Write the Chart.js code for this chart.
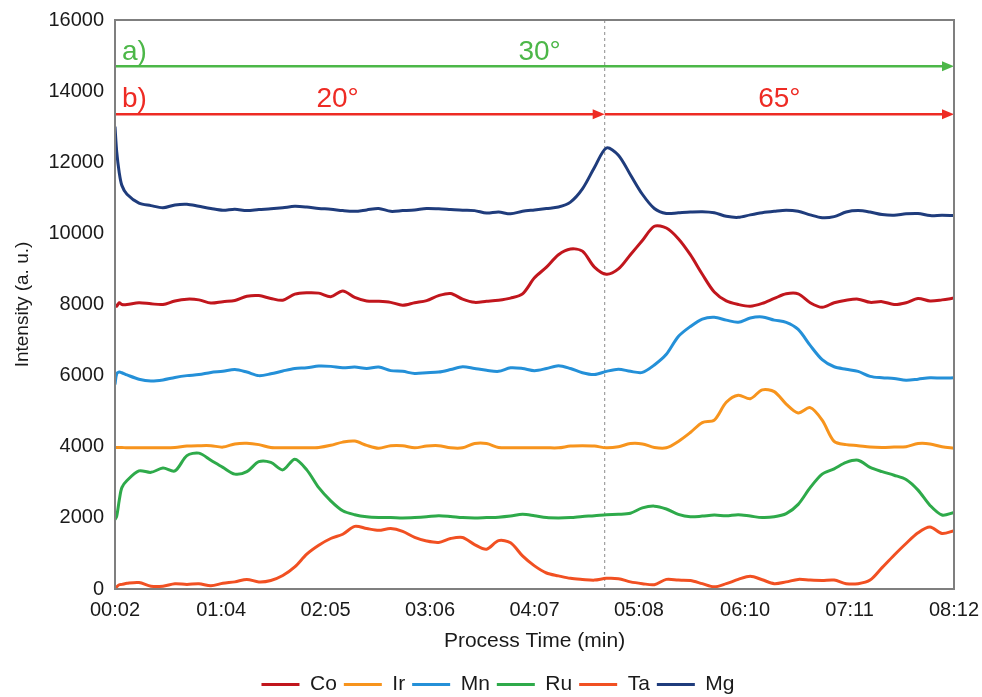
<!DOCTYPE html>
<html>
<head>
<meta charset="utf-8">
<script src="https://cdn.jsdelivr.net/npm/chart.js@4.4.1/dist/chart.umd.min.js"></script>
<style>
  html, body { margin: 0; padding: 0; background: #fff; }
  #wrap { width: 982px; height: 697px; }
</style>
</head>
<body>
<div id="wrap"><canvas id="intensityChart" width="982" height="697"></canvas></div>
<script>
// process time in seconds
const times = [2, 3, 4.5, 6, 9, 16, 23, 30, 37, 44, 51, 58, 65, 72, 79, 86, 93, 100, 107, 114, 121, 128, 135, 142,
  149, 156, 163, 170, 177, 184, 191, 198, 205, 212, 219, 226, 233, 240, 247, 254, 261, 268, 275, 282, 289, 296,
  303, 310, 317, 324, 331, 338, 345, 352, 359, 366, 373, 380, 387, 394, 401, 408, 415, 422, 429, 436, 443, 450,
  457, 464, 471, 478, 485, 492];

const co = [8000, 7950, 8050, 8000, 8000, 8050, 8020, 8000, 8100, 8150, 8130, 8040, 8080, 8110, 8230, 8250, 8170,
  8120, 8290, 8330, 8320, 8220, 8380, 8200, 8100, 8090, 8060, 7980, 8050, 8110, 8250, 8310, 8150, 8060, 8090, 8120,
  8180, 8300, 8750, 9050, 9400, 9560, 9500, 9050, 8850, 9000, 9400, 9800, 10200, 10150, 9850, 9400, 8850, 8350,
  8100, 8000, 7950, 8030, 8170, 8300, 8300, 8050, 7920, 8050, 8120, 8150, 8060, 8080, 8000, 8050, 8170, 8100, 8130, 8180];
const ir = [3980, 3980, 3980, 3980, 3970, 3970, 3970, 3970, 3980, 4020, 4030, 4030, 3990, 4080, 4100, 4060, 3980,
  3970, 3970, 3970, 3980, 4040, 4130, 4160, 4040, 3960, 4030, 4030, 3970, 4020, 4030, 3970, 3970, 4090, 4090, 3980,
  3970, 3970, 3970, 3970, 3970, 4020, 4030, 4020, 3970, 4000, 4090, 4080, 3980, 3970, 4150, 4400, 4680, 4750, 5250,
  5450, 5350, 5600, 5550, 5200, 4950, 5100, 4750, 4150, 4060, 4030, 3990, 3980, 3990, 4000, 4090, 4080, 4000, 3960];
const mn = [5750, 6050, 6100, 6080, 6020, 5900, 5850, 5880, 5950, 6000, 6030, 6090, 6120, 6170, 6100, 6000, 6050,
  6130, 6200, 6220, 6270, 6260, 6220, 6240, 6200, 6240, 6140, 6120, 6060, 6080, 6100, 6170, 6250, 6200, 6150, 6120,
  6220, 6200, 6140, 6200, 6280, 6200, 6080, 6030, 6120, 6180, 6120, 6090, 6300, 6600, 7100, 7380, 7590, 7640, 7560,
  7500, 7620, 7650, 7560, 7500, 7300, 6850, 6450, 6250, 6180, 6120, 5980, 5940, 5920, 5870, 5900, 5940, 5930, 5940];
const ru = [1950, 2050, 2500, 2850, 3050, 3320, 3280, 3400, 3320, 3750, 3820, 3620, 3420, 3230, 3300, 3580, 3560,
  3350, 3650, 3350, 2850, 2480, 2200, 2090, 2030, 2010, 2010, 2000, 2010, 2030, 2060, 2040, 2010, 2000, 2010, 2020,
  2050, 2100, 2060, 2010, 2000, 2010, 2040, 2060, 2090, 2100, 2130, 2280, 2330, 2250, 2100, 2030, 2050, 2080, 2060,
  2090, 2050, 2010, 2030, 2120, 2380, 2850, 3230, 3380, 3560, 3620, 3420, 3300, 3200, 3080, 2780, 2350, 2080, 2150];
const ta = [0, 60, 120, 130, 160, 180, 80, 80, 150, 130, 150, 90, 160, 200, 270, 200, 240, 380, 620, 980, 1230,
  1420, 1540, 1760, 1700, 1650, 1700, 1620, 1450, 1350, 1310, 1420, 1450, 1250, 1120, 1360, 1300, 930, 650, 450,
  370, 300, 270, 250, 300, 290, 200, 150, 120, 270, 250, 240, 150, 60, 150, 270, 360, 260, 150, 200, 270, 250, 240,
  250, 150, 150, 250, 600, 950, 1280, 1580, 1740, 1560, 1640];
const mg = [13000, 12300, 11700, 11350, 11100, 10850, 10780, 10720, 10800, 10820, 10760, 10700, 10650, 10680, 10640,
  10670, 10690, 10720, 10760, 10740, 10700, 10680, 10640, 10620, 10660, 10700, 10620, 10640, 10660, 10700, 10690,
  10670, 10650, 10640, 10570, 10600, 10550, 10620, 10660, 10700, 10740, 10880, 11250, 11850, 12400, 12200, 11650,
  11100, 10700, 10560, 10580, 10600, 10610, 10580, 10480, 10450, 10520, 10580, 10620, 10650, 10620, 10520, 10440,
  10470, 10600, 10640, 10600, 10530, 10510, 10550, 10560, 10500, 10510, 10500];

const xTickLabels = ['00:02', '01:04', '02:05', '03:06', '04:07', '05:08', '06:10', '07:11', '08:12'];
const yTicks = [0, 2000, 4000, 6000, 8000, 10000, 12000, 14000, 16000];

// angle program: a) one step, b) two steps switching at the dashed line
const switchTime = 288;
const arrowA = { level: 14700, label: '30°', labelAt: 250 };
const arrowB = { level: 13350, labels: ['20°', '65°'], labelAt: [132, 390] };

const series = [
  { name: 'Co', values: co, color: '#c1161d' },
  { name: 'Ir', values: ir, color: '#f7941d' },
  { name: 'Mn', values: mn, color: '#2490d8' },
  { name: 'Ru', values: ru, color: '#2eaa4a' },
  { name: 'Ta', values: ta, color: '#f15022' },
  { name: 'Mg', values: mg, color: '#1f3c7c' }
];

const tickSeconds = xTickLabels.map(s => {
  const p = s.split(':');
  return parseInt(p[0], 10) * 60 + parseInt(p[1], 10);
});

const FONT = "'Liberation Sans', Arial, sans-serif";
const GREEN = '#4cb748';
const RED = '#ee2b24';

function arrow(ctx, x1, x2, y, color) {
  ctx.strokeStyle = color;
  ctx.fillStyle = color;
  ctx.lineWidth = 2.5;
  ctx.beginPath();
  ctx.moveTo(x1, y);
  ctx.lineTo(x2 - 8, y);
  ctx.stroke();
  ctx.beginPath();
  ctx.moveTo(x2, y);
  ctx.lineTo(x2 - 12, y - 5);
  ctx.lineTo(x2 - 12, y + 5);
  ctx.closePath();
  ctx.fill();
}

const overlay = {
  id: 'overlay',
  afterLayout(chart) {
    // legend sits a little right of centre in the original
    chart.legend.left += 21;
    chart.legend.right += 21;
  },
  beforeDatasetsDraw(chart) {
    const { ctx, chartArea, scales: { x } } = chart;
    const sx = x.getPixelForValue(switchTime);
    ctx.save();
    ctx.strokeStyle = '#8c8c8c';
    ctx.lineWidth = 1;
    ctx.setLineDash([3, 3]);
    ctx.beginPath();
    ctx.moveTo(sx, chartArea.top);
    ctx.lineTo(sx, chartArea.bottom);
    ctx.stroke();
    ctx.restore();
  },
  afterDatasetsDraw(chart) {
    const { ctx, chartArea, scales: { x, y } } = chart;
    const left = chartArea.left, right = x.getPixelForValue(492);
    const sx = x.getPixelForValue(switchTime);
    const ya = y.getPixelForValue(arrowA.level);
    const yb = y.getPixelForValue(arrowB.level);
    ctx.save();
    arrow(ctx, left, right, ya, GREEN);
    arrow(ctx, left, sx, yb, RED);
    arrow(ctx, sx, right, yb, RED);

    ctx.font = '28px ' + FONT;
    ctx.textBaseline = 'alphabetic';
    ctx.textAlign = 'left';
    ctx.fillStyle = GREEN;
    ctx.fillText('a)', left + 7, ya - 6);
    ctx.fillStyle = RED;
    ctx.fillText('b)', left + 7, yb - 7);

    ctx.textAlign = 'center';
    ctx.fillStyle = GREEN;
    ctx.fillText(arrowA.label, x.getPixelForValue(arrowA.labelAt), ya - 6);
    ctx.fillStyle = RED;
    arrowB.labels.forEach((t, i) => {
      ctx.fillText(t, x.getPixelForValue(arrowB.labelAt[i]), yb - 7);
    });
    ctx.restore();
  },
  afterDraw(chart) {
    const { ctx, chartArea } = chart;
    ctx.save();
    ctx.strokeStyle = '#7f7f7f';
    ctx.lineWidth = 2;
    ctx.strokeRect(chartArea.left, chartArea.top, chartArea.right - chartArea.left, chartArea.bottom - chartArea.top);
    ctx.restore();
  }
};

const ctx = document.getElementById('intensityChart').getContext('2d');

new Chart(ctx, {
  type: 'line',
  data: {
    datasets: series.map(s => ({
      label: s.name,
      data: s.values.map((v, i) => ({ x: times[i], y: v })),
      borderColor: s.color,
      backgroundColor: s.color,
      borderWidth: 3,
      pointRadius: 0,
      tension: 0.3,
      fill: false
    }))
  },
  options: {
    responsive: false,
    animation: false,
    events: [],
    layout: { padding: { left: 0, right: 28, top: 20, bottom: -8 } },
    plugins: {
      legend: {
        display: true,
        position: 'bottom',
        labels: {
          usePointStyle: true,
          pointStyle: 'line',
          pointStyleWidth: 38,
          padding: 7,
          color: '#1a1a1a',
          font: { family: FONT, size: 21 }
        }
      },
      tooltip: { enabled: false }
    },
    scales: {
      x: {
        type: 'linear',
        min: 2,
        max: 492,
        afterBuildTicks: scale => { scale.ticks = tickSeconds.map(v => ({ value: v })); },
        afterFit: scale => {
          scale.height = 78;
          scale.paddingLeft = 0;
          scale.paddingRight = 0;
        },
        grid: { display: false, drawTicks: false },
        border: { display: false },
        ticks: {
          autoSkip: false,
          maxRotation: 0,
          padding: 9,
          color: '#1a1a1a',
          font: { family: FONT, size: 20 },
          callback: (v, i) => xTickLabels[i]
        },
        title: {
          display: true,
          text: 'Process Time (min)',
          color: '#1a1a1a',
          font: { family: FONT, size: 21 },
          padding: { top: 0, bottom: 13 }
        }
      },
      y: {
        min: 0,
        max: 16000,
        afterBuildTicks: scale => { scale.ticks = yTicks.map(v => ({ value: v })); },
        afterFit: scale => {
          scale.width = 115;
          scale.paddingTop = 0;
          scale.paddingBottom = 0;
        },
        grid: { display: false, drawTicks: false },
        border: { display: false },
        ticks: {
          padding: 11,
          color: '#1a1a1a',
          font: { family: FONT, size: 20 },
          callback: v => String(v)
        },
        title: {
          display: true,
          text: 'Intensity (a. u.)',
          color: '#1a1a1a',
          font: { family: FONT, size: 19 },
          padding: { top: 11, bottom: 0 }
        }
      }
    }
  },
  plugins: [overlay]
});
</script>
</body>
</html>
